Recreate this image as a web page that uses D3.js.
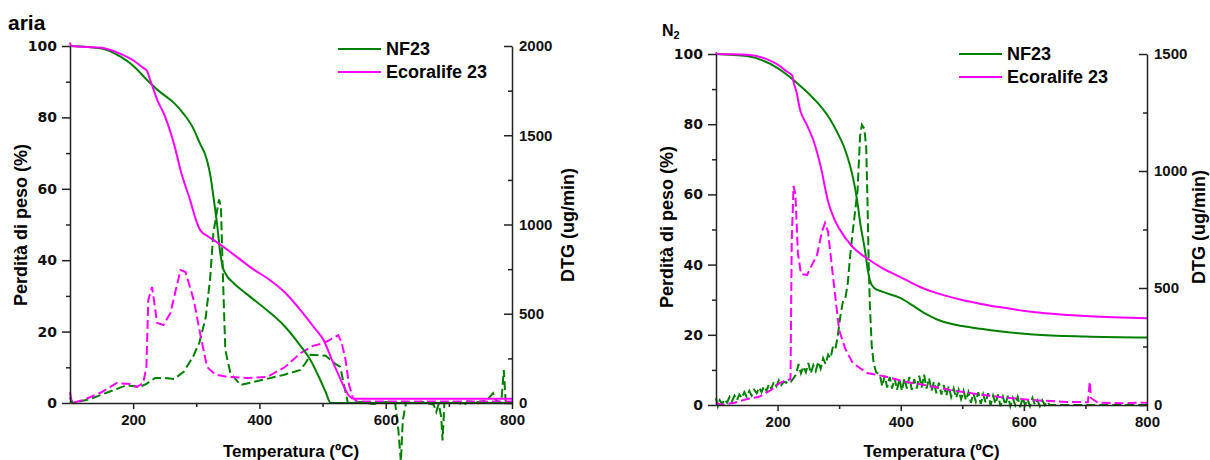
<!DOCTYPE html>
<html>
<head>
<meta charset="utf-8">
<script src="https://cdn.jsdelivr.net/npm/d3@7"></script>
<style>
  body { margin: 0; background: #fff; }
  svg { font-family: "Liberation Sans", Arial, sans-serif; font-weight: bold; }
</style>
</head>
<body>
<svg id="chart" width="1210" height="460"></svg>
<script>
// --- data: [temperatura (°C), valore] ---

// aria: TG (%)
const ariaNF23TG = [[100,100],[150,99.3],[180,97],[200,94.5],[222,90.5],[240,87.5],[265,84],[280,81],[295,77],
  [305,73],[317,68],[323,63],[327,58],[333,50],[338,42],[342,38],[347,36],[359,33.6],[380,30.5],[412,26],
  [440,21.5],[465,16],[481,12],[495,7],[505,3],[513,0],[800,0]];
const ariaEcoTG = [[100,101],[102,100],[150,99.5],[180,97.8],[200,96],[215,94],[222,93],[226,91],[230,89],
  [238,85],[250,80.5],[264,73],[277,64],[290,57],[300,51],[306,48.5],[320,46.5],[333,45],[360,41.5],
  [390,37.5],[412,35],[440,31],[465,26],[485,21.5],[502,17.5],[515,12],[525,8],[534,4.5],[542,2],
  [550,1.2],[800,1.2]];

// aria: DTG (ug/min)
const ariaNF23DTG = [[100,30],[104,0],[130,20],[160,60],[190,100],[210,90],[220,105],[235,140],[250,140],
  [265,135],[280,175],[295,260],[305,340],[315,480],[322,700],[327,950],[333,1080],[336,1140],[339,1100],
  [343,616],[346,297],[354,168],[370,101],[391,118],[438,157],[465,185],[473,224],[481,270],[505,265],
  [520,220],[528,202],[534,100],[540,0],[560,5],[580,-5],[600,5],[615,0],[620,-150],[624,-330],[627,-100],
  [629,-60],[632,0],[660,5],[676,-10],[680,-50],[684,-5],[688,-80],[690,-210],[693,0],[710,5],[725,-10],
  [730,10],[745,5],[760,15],[770,55],[775,15],[783,0],[787,185],[790,10],[795,0],[800,0]];
const ariaEcoDTG = [[100,60],[103,0],[120,15],[150,60],[174,112],[195,106],[206,90],[216,112],[221,200],
  [224,577],[230,650],[234,550],[238,448],[248,437],[259,504],[275,745],[283,734],[296,577],[306,392],
  [317,202],[330,160],[349,146],[381,140],[412,146],[440,200],[465,280],[485,320],[502,336],[515,360],
  [525,380],[530,340],[536,250],[542,100],[548,30],[555,8],[600,8],[800,8]];

// N2: TG (%)
const n2NF23TG = [[100,100],[150,99.4],[200,96],[232,91.7],[250,88.8],[269,85.3],[285,81.5],[296,78],
  [308,73.5],[318,68],[324,63.5],[329,58.5],[335,51],[342,44],[346,39],[350,35.5],[356,33.5],[370,32.3],
  [399,30.5],[420,28.3],[440,26],[460,24.3],[480,23.2],[500,22.5],[530,21.7],[560,21],[615,20.1],
  [700,19.5],[800,19.2]];
const n2EcoTG = [[100,100.5],[101,100],[150,99.8],[180,98.7],[200,97],[215,95],[224,93.8],[226,92],[231,89],
  [236,84.5],[247,80],[258,75.5],[270,68],[282,58],[292,53],[301,50],[322,45],[345,41.8],[370,39],
  [399,36.5],[420,34.6],[440,33],[460,31.8],[480,30.8],[500,29.9],[530,28.8],[560,27.9],[615,26.5],
  [660,25.8],[707,25.3],[800,24.7]];

// N2: DTG (ug/min), noisy trace typed point by point
const n2NF23DTG = [[100,30],[103,-5],[106,20],[110,5],[114,25],[118,10],[122,35],[126,15],[130,40],[134,20],
  [138,45],[142,30],[146,55],[150,35],[154,60],[158,40],[162,65],[166,50],[170,75],[174,55],[178,80],
  [182,60],[186,90],[190,70],[194,100],[198,80],[202,105],[206,85],[210,100],[214,95],[218,105],[222,100],
  [226,115],[230,130],[234,175],[238,135],[242,165],[246,140],[250,180],[254,135],[258,170],[262,145],
  [266,185],[270,155],[274,200],[278,175],[282,215],[286,200],[290,250],[294,240],[298,300],[302,380],
  [306,440],[310,455],[314,520],[318,640],[322,740],[326,830],[330,920],[334,1150],[337,1197],[341,1180],
  [344,1100],[346,880],[348,600],[350,420],[353,250],[356,180],[360,140],[366,130],[370,80],[374,125],
  [378,75],[382,120],[386,70],[390,115],[394,65],[398,110],[402,60],[406,115],[410,70],[414,120],[418,65],
  [422,110],[426,70],[430,125],[434,75],[438,130],[442,70],[446,115],[450,60],[454,100],[458,50],[462,95],
  [466,45],[470,85],[474,40],[478,80],[482,35],[486,70],[490,30],[494,65],[498,25],[502,60],[506,20],
  [510,55],[514,10],[518,50],[522,15],[526,55],[530,5],[534,45],[538,10],[542,50],[546,0],[550,40],
  [554,5],[558,45],[562,-5],[566,35],[570,0],[574,40],[578,-5],[582,30],[586,0],[590,35],[594,-10],
  [598,30],[602,0],[606,25],[610,-5],[614,30],[618,0],[622,20],[626,-5],[630,20],[634,0],[638,15],
  [642,0],[650,0],[800,0]];
const n2EcoDTG = [[100,10],[110,0],[130,10],[150,25],[170,35],[190,65],[204,95],[217,107],[221,110],
  [223,700],[226,936],[229,900],[233,650],[238,560],[248,556],[256,600],[264,640],[272,740],[277,778],
  [282,740],[290,550],[300,320],[310,240],[322,180],[345,137],[378,120],[410,98],[450,80],[480,64],
  [520,48],[561,34],[620,20],[670,13],[704,12],[707,100],[709,30],[720,10],[760,8],[800,10]];

const seriesNames = ["NF23", "Ecoralife 23"];
const xTicks = [200, 400, 600, 800];
const xMinor = [300, 500, 700];
const tgTicks = [0, 20, 40, 60, 80, 100];
const tgMinor = [10, 30, 50, 70, 90];

const GREEN = "#008000";
const MAGENTA = "#ff00ff";
const AXIS = "#222";

const svg = d3.select("#chart");
const fmt = d3.format("d");

function styleAxis(g, size) {
  g.selectAll("path, line").attr("stroke", AXIS).attr("stroke-width", 1.5);
  g.selectAll("text")
    .attr("fill", "#111")
    .attr("font-size", size)
    .attr("font-weight", "bold")
    .attr("font-family", "'Liberation Sans', Arial, sans-serif");
}

function drawPanel(p) {
  const g = svg.append("g");

  const x = d3.scaleLinear().domain([100, 800]).range(p.xRange);
  const yL = d3.scaleLinear().domain([0, 100]).range(p.yRange);
  const yR = d3.scaleLinear().domain([0, p.dtgMax]).range(p.yRange);

  const tgLine = d3.line()
    .x((d) => x(d[0]))
    .y((d) => yL(d[1]))
    .curve(d3.curveMonotoneX);
  const dtgLine = d3.line()
    .x((d) => x(d[0]))
    .y((d) => yR(d[1]));

  // DTG dashed traces
  [[p.nfDTG, GREEN], [p.ecoDTG, MAGENTA]].forEach(([data, color]) => {
    g.append("path")
      .datum(data)
      .attr("d", dtgLine)
      .attr("fill", "none")
      .attr("stroke", color)
      .attr("stroke-width", 2)
      .attr("stroke-dasharray", "9,4");
  });

  // TG solid traces
  [[p.nfTG, GREEN], [p.ecoTG, MAGENTA]].forEach(([data, color]) => {
    g.append("path")
      .datum(data)
      .attr("d", tgLine)
      .attr("fill", "none")
      .attr("stroke", color)
      .attr("stroke-width", 2);
  });

  // axes
  const x0 = p.xRange[0], x1 = p.xRange[1], y0 = p.yRange[0];

  g.append("g")
    .attr("transform", `translate(0,${y0})`)
    .call(d3.axisBottom(x).tickValues(xMinor).tickSize(4).tickFormat(""))
    .call((a) => a.select(".domain").remove())
    .call((a) => styleAxis(a, 15));
  g.append("g")
    .attr("transform", `translate(0,${y0})`)
    .call(d3.axisBottom(x).tickValues(xTicks).tickFormat(fmt).tickSizeInner(6).tickSizeOuter(0).tickPadding(5))
    .call((a) => styleAxis(a, 15));

  g.append("g")
    .attr("transform", `translate(${x0},0)`)
    .call(d3.axisLeft(yL).tickValues(tgMinor).tickSize(4).tickFormat(""))
    .call((a) => a.select(".domain").remove())
    .call((a) => styleAxis(a, 14));
  g.append("g")
    .attr("transform", `translate(${x0},0)`)
    .call(d3.axisLeft(yL).tickValues(tgTicks).tickFormat(fmt).tickSizeInner(8).tickSizeOuter(0).tickPadding(5))
    .call((a) => styleAxis(a, 14))
    .call((a) => a.selectAll("text").attr("font-family", "'DejaVu Sans', sans-serif").attr("font-size", 14));

  g.append("g")
    .attr("transform", `translate(${x1},0)`)
    .call(d3.axisRight(yR).tickValues(p.dtgMinor).tickSizeInner(-4).tickFormat(""))
    .call((a) => a.select(".domain").remove())
    .call((a) => styleAxis(a, 15));
  g.append("g")
    .attr("transform", `translate(${x1},0)`)
    .call(d3.axisRight(yR).tickValues(p.dtgTicks).tickFormat(fmt).tickSizeInner(-8).tickSizeOuter(0).tickPadding(7))
    .call((a) => styleAxis(a, 15));

  // axis titles
  g.append("text")
    .attr("x", (x0 + x1) / 2)
    .attr("y", 457)
    .attr("text-anchor", "middle")
    .attr("font-size", 17)
    .text("Temperatura (ºC)");

  g.append("text")
    .attr("transform", `translate(${p.leftTitleX},${p.titleCY}) rotate(-90)`)
    .attr("text-anchor", "middle")
    .attr("font-size", 18)
    .text("Perdità di peso (%)");

  g.append("text")
    .attr("transform", `translate(${p.rightTitleX},${p.titleCY}) rotate(-90)`)
    .attr("text-anchor", "middle")
    .attr("font-size", 18)
    .text("DTG (ug/min)");

  // legend
  const leg = g.append("g").attr("transform", `translate(${p.legendX},${p.legendY})`);
  seriesNames.forEach((name, i) => {
    leg.append("line")
      .attr("x1", 0).attr("x2", 43)
      .attr("y1", i * 23).attr("y2", i * 23)
      .attr("stroke", i === 0 ? GREEN : MAGENTA)
      .attr("stroke-width", 2);
    leg.append("text")
      .attr("x", 48)
      .attr("y", i * 23 + 6)
      .attr("font-size", 18)
      .text(name);
  });

  return g;
}

drawPanel({
  xRange: [70, 512], yRange: [403, 46],
  dtgMax: 2000, dtgTicks: [0, 500, 1000, 1500, 2000], dtgMinor: [250, 750, 1250, 1750],
  nfTG: ariaNF23TG, ecoTG: ariaEcoTG, nfDTG: ariaNF23DTG, ecoDTG: ariaEcoDTG,
  leftTitleX: 27, rightTitleX: 574, titleCY: 225,
  legendX: 338, legendY: 49
});

drawPanel({
  xRange: [716, 1147], yRange: [405, 54],
  dtgMax: 1500, dtgTicks: [0, 500, 1000, 1500], dtgMinor: [250, 750, 1250],
  nfTG: n2NF23TG, ecoTG: n2EcoTG, nfDTG: n2NF23DTG, ecoDTG: n2EcoDTG,
  leftTitleX: 673, rightTitleX: 1205, titleCY: 227,
  legendX: 959, legendY: 54
});

// panel labels
svg.append("text")
  .attr("x", 8).attr("y", 30)
  .attr("font-size", 21)
  .text("aria");

const n2 = svg.append("text").attr("x", 662).attr("y", 36).attr("font-size", 16);
n2.append("tspan").text("N");
n2.append("tspan").attr("font-size", 11).attr("dy", 3).text("2");
</script>
</body>
</html>
